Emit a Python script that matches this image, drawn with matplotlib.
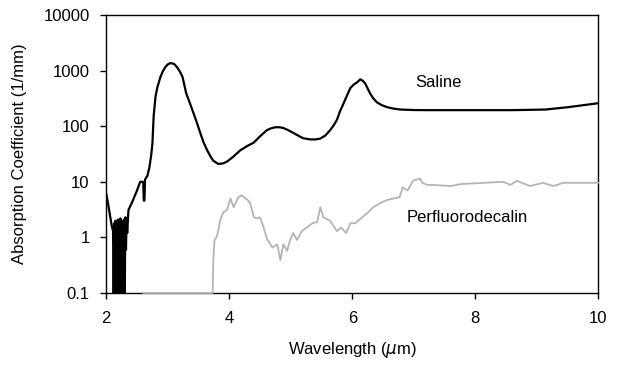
import matplotlib.pyplot as plt
import numpy as np

plt.rcParams['font.family'] = ['Liberation Sans', 'DejaVu Sans']

# saline absorption
saline_wl = [2.00, 2.03, 2.06, 2.09, 2.11, 2.12, 2.13, 2.14, 2.15, 2.16, 2.17,
             2.18, 2.19, 2.20, 2.21, 2.22, 2.23, 2.24, 2.25, 2.26, 2.27, 2.28,
             2.29, 2.30, 2.31, 2.32, 2.33, 2.34, 2.36, 2.42, 2.50, 2.55, 2.60,
             2.61, 2.62, 2.63, 2.67, 2.70, 2.73, 2.75, 2.77, 2.80, 2.83, 2.88,
             2.92, 2.96, 3.00, 3.04, 3.10, 3.15, 3.20, 3.24, 3.30, 3.36, 3.42,
             3.48, 3.53, 3.58, 3.64, 3.70, 3.74, 3.82, 3.90, 3.96, 4.06, 4.18,
             4.29, 4.40, 4.50, 4.61, 4.68, 4.75, 4.82, 4.88, 4.96, 5.05, 5.12,
             5.20, 5.32, 5.40, 5.48, 5.56, 5.64, 5.70, 5.75, 5.80, 5.86, 5.92,
             5.97, 6.03, 6.08, 6.13, 6.17, 6.21, 6.25, 6.29, 6.34, 6.40, 6.48,
             6.57, 6.67, 6.78, 7.00, 7.20, 8.00, 8.60, 9.14, 9.50, 9.76, 10.00]
saline_val = [6.0, 4.0, 2.5, 1.6, 1.3, 0.09, 1.8, 0.3, 2.0, 0.09, 1.9, 0.5,
              2.1, 0.09, 2.0, 0.2, 2.2, 0.09, 1.9, 0.4, 2.0, 0.09, 2.1, 0.09,
              2.3, 0.6, 2.2, 1.2, 3.1, 4.3, 7.0, 10.0, 10.0, 4.6, 4.6, 11.0,
              13.0, 18.0, 30.0, 49.0, 150.0, 340.0, 500.0, 770.0, 980.0,
              1160.0, 1300.0, 1370.0, 1330.0, 1160.0, 950.0, 770.0, 390.0,
              260.0, 170.0, 110.0, 75.0, 52.0, 37.0, 28.0, 24.0, 21.0, 21.5,
              23.0, 28.0, 37.0, 44.0, 51.0, 66.0, 85.0, 92.0, 96.0, 96.0, 93.0,
              85.0, 75.0, 68.0, 61.0, 58.0, 58.0, 60.0, 68.0, 85.0, 105.0,
              130.0, 185.0, 260.0, 370.0, 490.0, 570.0, 620.0, 700.0, 660.0,
              590.0, 480.0, 390.0, 320.0, 270.0, 240.0, 220.0, 208.0, 200.0,
              196.0, 195.0, 195.0, 195.0, 200.0, 220.0, 240.0, 260.0]

# perfluorodecalin absorption
pfd_wl = [2.60, 3.73, 3.74, 3.76, 3.79, 3.82, 3.85, 3.90, 3.96, 4.02, 4.07,
          4.15, 4.20, 4.30, 4.34, 4.40, 4.45, 4.50, 4.56, 4.61, 4.70, 4.78,
          4.83, 4.88, 4.94, 4.99, 5.04, 5.10, 5.18, 5.26, 5.35, 5.43, 5.48,
          5.53, 5.64, 5.75, 5.82, 5.90, 5.97, 6.05, 6.16, 6.24, 6.34, 6.45,
          6.56, 6.66, 6.77, 6.82, 6.90, 6.99, 7.10, 7.14, 7.22, 7.32, 7.60,
          7.76, 8.14, 8.46, 8.57, 8.68, 8.89, 9.10, 9.27, 9.43, 9.66, 9.87,
          10.00]
pfd_val = [0.1, 0.1, 0.39, 0.89, 1.0, 1.3, 2.0, 2.8, 3.1, 5.0, 3.5, 5.3,
           5.7, 4.7, 4.1, 2.3, 2.2, 2.3, 1.5, 0.96, 0.66, 0.75, 0.39, 0.75,
           0.57, 0.9, 1.2, 0.9, 1.3, 1.5, 1.8, 1.9, 3.5, 2.3, 2.0, 1.3, 1.5,
           1.2, 1.8, 1.8, 2.3, 2.7, 3.5, 4.1, 4.7, 5.0, 5.3, 8.0, 7.0, 10.5,
           11.5, 9.6, 8.8, 8.8, 8.4, 9.1, 9.6, 10.0, 8.8, 10.4, 8.4, 9.6, 8.4,
           9.6, 9.6, 9.6, 9.6]

fig, ax = plt.subplots(figsize=(6.18, 3.69), dpi=100)
fig.subplots_adjust(left=0.172, right=0.968, bottom=0.206, top=0.959)

ax.plot(saline_wl, saline_val, color='black', lw=1.6)
ax.plot(pfd_wl, pfd_val, color='#b4b4b4', lw=1.3, clip_on=False, zorder=3)

ax.set_yscale('log')
ax.set_xlim(2, 10)
ax.set_ylim(0.1, 10000)
ax.set_xticks([2, 4, 6, 8, 10])
ax.set_yticks([0.1, 1, 10, 100, 1000, 10000])
ax.set_yticklabels(['0.1', '1', '10', '100', '1000', '10000'])
ax.yaxis.set_minor_locator(plt.NullLocator())
ax.tick_params(labelsize=12, length=4, width=1)
ax.tick_params(axis='x', pad=9)
ax.tick_params(axis='y', pad=8)
for s in ax.spines.values():
    s.set_linewidth(1.0)

ax.text(7.02, 620, 'Saline', fontsize=12, va='center')
ax.text(6.89, 2.3, 'Perfluorodecalin', fontsize=12, va='center')

ax.set_xlabel(r'Wavelength ($\mu$m)', fontsize=12, labelpad=10)
ax.set_ylabel('Absorption Coefficient (1/mm)', fontsize=12, labelpad=12)

plt.savefig('out.png', dpi=100)
